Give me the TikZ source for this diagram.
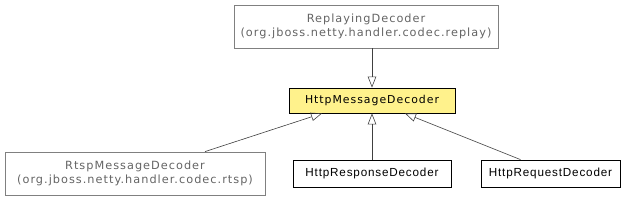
\documentclass[tikz,border=0pt]{standalone}
\usepackage{fontspec}
\setmainfont{DejaVu Sans}
\newfontfamily\dvfont[LetterSpace=9]{DejaVu Sans}
\newfontfamily\lbfont[LetterSpace=7]{Liberation Sans}
\usetikzlibrary{arrows.meta}
\definecolor{hl}{RGB}{255,242,140}
\definecolor{gry}{RGB}{128,128,128}
\definecolor{gtxt}{RGB}{100,100,100}
\tikzset{
  ext/.style={draw=gry, text=gtxt, line width=0.8pt, align=center, inner sep=0pt, font=\dvfont\fontsize{11.3}{13.3}\selectfont},
  hlc/.style={draw=black, fill=hl, line width=0.8pt, align=center, inner sep=0pt, font=\dvfont\fontsize{10.9}{13}\selectfont},
  cls/.style={draw=black, line width=0.8pt, align=center, inner sep=0pt, font=\lbfont\fontsize{11.7}{13}\selectfont},
  inh/.style={draw=black!75, line width=0.6pt, -{Triangle[open, length=11pt, width=8.5pt]}}
}
\begin{document}
\begin{tikzpicture}[x=1pt,y=-1pt]
\useasboundingbox (0,0) rectangle (632,200);
\node[ext, minimum width=264pt, minimum height=43pt] (replay) at (366,26.5) {ReplayingDecoder\\(org.jboss.netty.handler.codec.replay)};
\node[hlc, minimum width=166pt, minimum height=25pt] (msg) at (372,100.5) {HttpMessageDecoder};
\node[ext, minimum width=260pt, minimum height=43pt] (rtsp) at (135,173.5) {RtspMessageDecoder\\(org.jboss.netty.handler.codec.rtsp)};
\node[cls, minimum width=158pt, minimum height=27pt] (resp) at (372,173.5) {HttpResponseDecoder};
\node[cls, minimum width=139pt, minimum height=27pt] (req) at (550.5,173.5) {HttpRequestDecoder};
\draw[inh] (msg.north |- replay.south) -- (msg.north);
\draw[inh] ([xshift=70pt]rtsp.north) -- ([xshift=-50pt]msg.south);
\draw[inh] (resp.north) -- (msg.south);
\draw[inh] ([xshift=-30pt]req.north) -- ([xshift=33pt]msg.south);
\end{tikzpicture}
\end{document}
